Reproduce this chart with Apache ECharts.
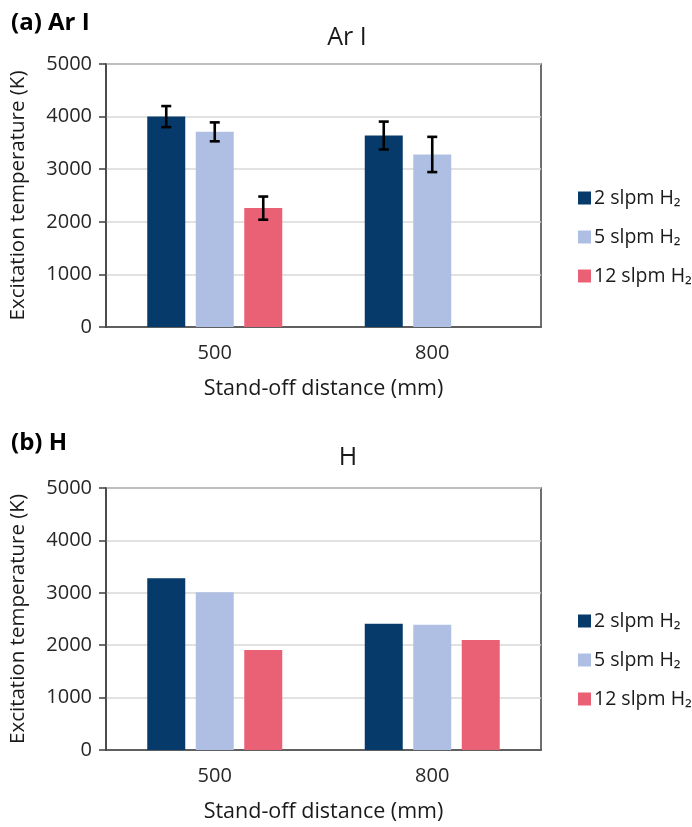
<!DOCTYPE html>
<html>
<head>
<meta charset="utf-8">
<script src="https://cdn.jsdelivr.net/npm/echarts@6/dist/echarts.min.js"></script>
<style>
html, body { margin: 0; padding: 0; background: #fff; }
#main { width: 692px; height: 827px; }
</style>
</head>
<body>
<div id="main"></div>
<script>
var categories = ['500', '800'];
var seriesNames = ['2 slpm H\u2082', '5 slpm H\u2082', '12 slpm H\u2082'];
var colors = ['#053a6b', '#afbfe4', '#ea6176'];

// (a) Ar I
var arTwo = [4000, 3640];
var arFive = [3710, 3280];
var arTwelve = [2260, '-'];
var arTwoErr = [200, 265];
var arFiveErr = [180, 335];
var arTwelveErr = [220, '-'];

// (b) H
var hTwo = [3280, 2410];
var hFive = [3010, 2390];
var hTwelve = [1910, 2100];

var yTicks = { min: 0, max: 5000, interval: 1000 };

var FONT = 'Open Sans';
var BAR_W = 38;
var BAR_GAP = 10.5;

var chart = echarts.init(document.getElementById('main'));

function makeXAxis(idx){
	return {
		type : 'category',
		gridIndex : idx,
		data : categories,
		axisLine : { lineStyle : { color : '#404040', width : 1.5 } },
		axisTick : { show : false },
		axisLabel : { color : '#262626', fontSize : 20, fontFamily : FONT, margin : 16 },
		name : 'Stand-off distance (mm)',
		nameLocation : 'middle',
		nameGap : 51,
		nameTextStyle : { color : '#1a1a1a', fontSize : 21.5, fontFamily : FONT }
	};
}

function makeYAxis(idx){
	return {
		type : 'value',
		gridIndex : idx,
		min : yTicks.min,
		max : yTicks.max,
		interval : yTicks.interval,
		axisLine : { show : true, lineStyle : { color : '#404040', width : 1.5 } },
		axisTick : { show : true, length : 7, lineStyle : { color : '#404040', width : 1.5 } },
		axisLabel : {
			color : '#262626', fontSize : 20, fontFamily : FONT, margin : 14,
			formatter : function(v){ return String(v); }
		},
		splitLine : { lineStyle : { color : '#d9d9d9', width : 1.5 } },
		name : 'Excitation temperature (K)',
		nameLocation : 'middle',
		nameGap : 77,
		nameTextStyle : { color : '#1a1a1a', fontSize : 20.5, fontFamily : FONT }
	};
}

function barSeries(name, data, idx, color){
	return {
		type : 'bar',
		name : name,
		xAxisIndex : idx,
		yAxisIndex : idx,
		data : data,
		barWidth : BAR_W,
		barGap : (BAR_GAP / BAR_W * 100) + '%',
		itemStyle : { color : color },
		emphasis : { disabled : true }
	};
}

//误差线
function errorSeries(values, errs, idx, pos){
	var data = [];
	for(var i = 0; i < values.length; i++){
		if(values[i] === '-' || errs[i] === '-'){
			continue;
		}
		data.push([i, values[i] - errs[i], values[i] + errs[i]]);
	}
	return {
		type : 'custom',
		xAxisIndex : idx,
		yAxisIndex : idx,
		z : 10,
		data : data,
		renderItem : function(params, api){
			var off = (pos - 1) * (BAR_W + BAR_GAP);
			var lo = api.coord([api.value(0), api.value(1)]);
			var hi = api.coord([api.value(0), api.value(2)]);
			var x = lo[0] + off;
			var hw = 5;
			var style = { stroke : '#000', lineWidth : 2.6 };
			return {
				type : 'group',
				children : [
					{ type : 'line', shape : { x1 : x, y1 : lo[1], x2 : x, y2 : hi[1] }, style : style },
					{ type : 'line', shape : { x1 : x - hw, y1 : lo[1], x2 : x + hw, y2 : lo[1] }, style : style },
					{ type : 'line', shape : { x1 : x - hw, y1 : hi[1], x2 : x + hw, y2 : hi[1] }, style : style }
				]
			};
		}
	};
}

function legendFor(idx, top){
	return {
		orient : 'vertical',
		left : 573,
		top : top,
		itemWidth : 13,
		itemHeight : 13,
		itemGap : 19,
		icon : 'rect',
		data : seriesNames.map(function(n){ return { name : n }; }),
		textStyle : { color : '#1a1a1a', fontSize : 19.5, fontFamily : FONT, padding : [0, 0, 0, -2] },
		selectedMode : false
	};
}

var option = {
	animation : false,
	title : [
		{ text : '(a) Ar I', left : 6, top : 6, textStyle : { fontSize : 24, fontWeight : 'bold', fontFamily : FONT, color : '#000' } },
		{ text : 'Ar I', left : 342, textAlign : 'center', top : 20, textStyle : { fontSize : 25, fontWeight : 'normal', fontFamily : FONT, color : '#1a1a1a' } },
		{ text : '(b) H', left : 6, top : 426, textStyle : { fontSize : 24, fontWeight : 'bold', fontFamily : FONT, color : '#000' } },
		{ text : 'H', left : 343, textAlign : 'center', top : 440, textStyle : { fontSize : 25, fontWeight : 'normal', fontFamily : FONT, color : '#1a1a1a' } }
	],
	legend : [legendFor(0, 183), legendFor(1, 606)],
	grid : [
		{ left : 104, top : 64, width : 437, height : 263, show : true, borderColor : '#404040', borderWidth : 1.5, backgroundColor : 'transparent' },
		{ left : 104, top : 488, width : 437, height : 262, show : true, borderColor : '#404040', borderWidth : 1.5, backgroundColor : 'transparent' }
	],
	xAxis : [makeXAxis(0), makeXAxis(1)],
	yAxis : [makeYAxis(0), makeYAxis(1)],
	series : [
		barSeries(seriesNames[0], arTwo, 0, colors[0]),
		barSeries(seriesNames[1], arFive, 0, colors[1]),
		barSeries(seriesNames[2], arTwelve, 0, colors[2]),
		barSeries(seriesNames[0], hTwo, 1, colors[0]),
		barSeries(seriesNames[1], hFive, 1, colors[1]),
		barSeries(seriesNames[2], hTwelve, 1, colors[2]),
		errorSeries(arTwo, arTwoErr, 0, 0),
		errorSeries(arFive, arFiveErr, 0, 1),
		errorSeries(arTwelve, arTwelveErr, 0, 2)
	]
};

chart.setOption(option);
</script>
</body>
</html>
